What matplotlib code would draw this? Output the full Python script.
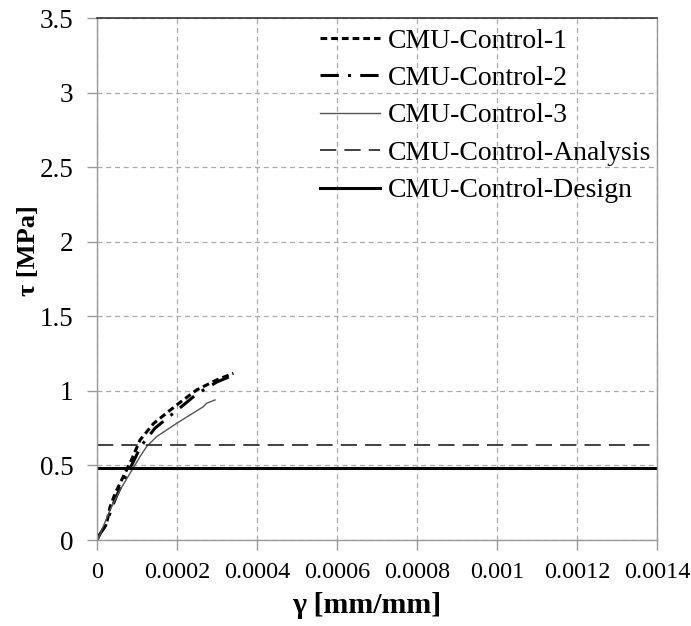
import matplotlib
matplotlib.use("Agg")
import matplotlib.pyplot as plt
import numpy as np

plt.rcParams['font.family'] = ['Liberation Serif', 'DejaVu Serif']

# Data
c1_x = [0.0, 0.0000033, 0.000024, 0.0000325, 0.000045, 0.0000575, 0.000074, 0.0000867,
        0.0001075, 0.000141, 0.000199, 0.000249, 0.000299, 0.000341]
c1_y = [0.0, 0.022, 0.11, 0.22, 0.31, 0.38, 0.47, 0.54, 0.67, 0.78, 0.905, 1.006, 1.073, 1.118]

c2_x = [0.0, 0.000005, 0.000022, 0.000035, 0.000048, 0.00006, 0.000076, 0.00009,
        0.00011, 0.000145, 0.0002, 0.00025, 0.0003, 0.000345]
c2_y = [0.0, 0.03, 0.10, 0.20, 0.29, 0.36, 0.45, 0.52, 0.63, 0.75, 0.87, 0.98, 1.06, 1.11]

c3_x = [0.0, 0.0000033, 0.0000325, 0.0000575, 0.0000825, 0.0001075, 0.000124, 0.000149,
        0.000199, 0.000266, 0.000274, 0.000295]
c3_y = [0.0, 0.011, 0.20, 0.335, 0.447, 0.559, 0.626, 0.693, 0.782, 0.894, 0.917, 0.939]

analysis_tau = 0.64
design_tau = 0.48

x_ticks = [0, 0.0002, 0.0004, 0.0006, 0.0008, 0.001, 0.0012, 0.0014]
x_labels = ['0', '0.0002', '0.0004', '0.0006', '0.0008', '0.001', '0.0012', '0.0014']
y_ticks = [0, 0.5, 1, 1.5, 2, 2.5, 3, 3.5]
y_labels = ['0', '0.5', '1', '1.5', '2', '2.5', '3', '3.5']

fig = plt.figure(figsize=(6.91, 6.26), dpi=100)
ax = fig.add_axes([97/691, 1 - 540/626, 560/691, 522/626])

ax.plot(c1_x, c1_y, color='black', lw=2.2, linestyle=(0, (2.2, 1.3)), label='CMU-Control-1')
ax.plot(c2_x, c2_y, color='black', lw=2.2, linestyle=(0, (6, 3, 1, 3)), label='CMU-Control-2')
ax.plot(c3_x, c3_y, color='#555555', lw=1.0, linestyle='-', label='CMU-Control-3')
ax.axhline(analysis_tau, color='#333333', lw=1.3, linestyle=(0, (9, 4.5)), label='CMU-Control-Analysis')
ax.axhline(design_tau, color='black', lw=2.2, linestyle='-', label='CMU-Control-Design')

ax.set_xlim(0, 0.0014)
ax.set_ylim(0, 3.5)
ax.set_xticks(x_ticks)
ax.set_xticklabels(x_labels)
ax.set_yticks(y_ticks)
ax.set_yticklabels(y_labels)
ax.tick_params(axis='both', colors='#999999', labelcolor='black',
               length=7, direction='out', width=1)
ax.tick_params(axis='x', pad=9, labelsize=17.5)
ax.tick_params(axis='y', pad=10, labelsize=19.5)
ax.grid(True, color='#aaaaaa', linestyle=(0, (4, 3)), lw=0.9)

for s in ['left', 'bottom', 'right']:
    ax.spines[s].set_color('#999999')
    ax.spines[s].set_linewidth(1.0)
ax.spines['top'].set_color('#333333')
ax.spines['top'].set_linewidth(1.2)

ax.set_xlabel('γ [mm/mm]', fontsize=21.5, fontweight='bold')
ax.set_ylabel('τ [MPa]', fontsize=19, fontweight='bold')
ax.xaxis.set_label_coords(0.482, -0.10)
ax.yaxis.set_label_coords(-0.102, 0.554)

leg = ax.legend(loc='upper right', bbox_to_anchor=(1.0, 0.991), frameon=False,
                fontsize=20, handlelength=2.15, handletextpad=0.3, labelspacing=0.43,
                borderaxespad=0.0, borderpad=0.2)

fig.savefig('out.png', dpi=100)
